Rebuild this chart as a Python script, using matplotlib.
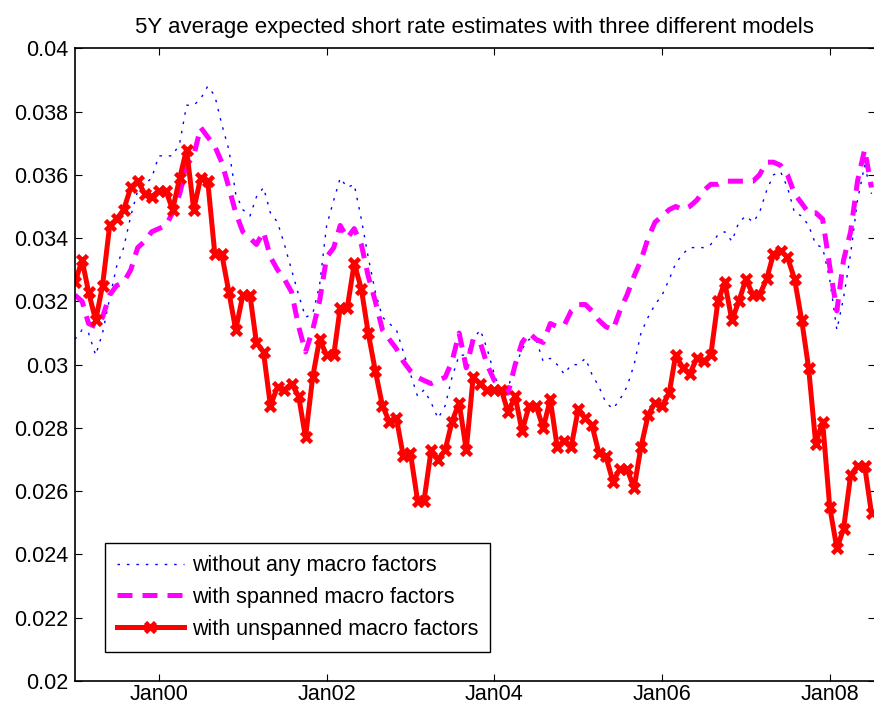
import matplotlib
matplotlib.use("Agg")
import matplotlib.pyplot as plt
import matplotlib.dates as mdates
import matplotlib.ticker as mticker
import pandas as pd
import datetime as dt

plt.rcParams['font.family'] = ['Liberation Sans', 'DejaVu Sans']

title = "5Y average expected short rate estimates with three different models"
labels = ["without any macro factors", "with spanned macro factors", "with unspanned macro factors"]

start_month = "1999-01-01"

no_macro = [
    0.0308, 0.0311, 0.0310, 0.0303, 0.0310, 0.0321, 0.0331, 0.0337, 0.0347, 0.0355,
    0.0357, 0.0359, 0.0366, 0.0366, 0.0366, 0.0370, 0.0382, 0.0382, 0.0384, 0.0388,
    0.0385, 0.0376, 0.0368, 0.0354, 0.0349, 0.0347, 0.0353, 0.0356, 0.0348, 0.0345,
    0.0338, 0.0330, 0.0322, 0.0315, 0.0316, 0.0325, 0.0344, 0.0352, 0.0359, 0.0356,
    0.0357, 0.0346, 0.0334, 0.0323, 0.0315, 0.0313, 0.0311, 0.0304, 0.0297, 0.0290,
    0.0292, 0.0288, 0.0283, 0.0287, 0.0296, 0.0303, 0.0303, 0.0308, 0.0311, 0.0305,
    0.0297, 0.0291, 0.0293, 0.0299, 0.0305, 0.0308, 0.0308, 0.0301, 0.0302, 0.0300,
    0.0297, 0.0300, 0.0300, 0.0302, 0.0297, 0.0293, 0.0288, 0.0286, 0.0289, 0.0293,
    0.0300, 0.0310, 0.0315, 0.0319, 0.0322, 0.0327, 0.0332, 0.0335, 0.0337, 0.0337,
    0.0337, 0.0338, 0.0341, 0.0342, 0.0339, 0.0345, 0.0347, 0.0345, 0.0348, 0.0355,
    0.0360, 0.0361, 0.0356, 0.0348, 0.0347, 0.0344, 0.0338, 0.0337, 0.0327, 0.0311,
    0.0321, 0.0335, 0.0352, 0.0363, 0.0354,
]

spanned = [
    0.0322, 0.0320, 0.0313, 0.0312, 0.0315, 0.0322, 0.0325, 0.0326, 0.0330, 0.0337,
    0.0339, 0.0342, 0.0343, 0.0344, 0.0348, 0.0354, 0.0363, 0.0366, 0.0375, 0.0372,
    0.0369, 0.0364, 0.0356, 0.0348, 0.0342, 0.0340, 0.0338, 0.0342, 0.0334, 0.0330,
    0.0327, 0.0323, 0.0312, 0.0304, 0.0311, 0.0320, 0.0334, 0.0337, 0.0344, 0.0340,
    0.0343, 0.0338, 0.0328, 0.0320, 0.0311, 0.0308, 0.0305, 0.0301, 0.0298, 0.0296,
    0.0295, 0.0294, 0.0295, 0.0296, 0.0301, 0.0310, 0.0299, 0.0308, 0.0307, 0.0300,
    0.0295, 0.0293, 0.0291, 0.0300, 0.0307, 0.0310, 0.0308, 0.0307, 0.0313, 0.0312,
    0.03125, 0.0317, 0.0319, 0.0319, 0.0317, 0.0314, 0.0312, 0.0311, 0.0317, 0.0322,
    0.0328, 0.0333, 0.0340, 0.0345, 0.0347, 0.0349, 0.0350, 0.0349, 0.0350, 0.0352,
    0.0355, 0.0357, 0.0357, 0.0358, 0.0358, 0.0358, 0.0358, 0.0358, 0.0360, 0.0364,
    0.0364, 0.0363, 0.0360, 0.0354, 0.0351, 0.0348, 0.0348, 0.0346, 0.0331, 0.0317,
    0.0333, 0.0342, 0.0358, 0.0368, 0.0356,
]

unspanned = [
    0.0326, 0.0333, 0.0323, 0.0314, 0.0325, 0.0344, 0.0346, 0.0349, 0.0356, 0.0358,
    0.0354, 0.0353, 0.0355, 0.0355, 0.0349, 0.0359, 0.0368, 0.0349, 0.0359, 0.0358,
    0.0335, 0.0335, 0.0323, 0.0311, 0.0322, 0.0322, 0.0307, 0.0304, 0.0287, 0.0293,
    0.0292, 0.0294, 0.0290, 0.0277, 0.0296, 0.0308, 0.0303, 0.0303, 0.0318, 0.0318,
    0.0332, 0.0324, 0.0310, 0.0298, 0.0287, 0.0282, 0.0283, 0.0271, 0.0272, 0.0257,
    0.0257, 0.0273, 0.0270, 0.0273, 0.0282, 0.0288, 0.0273, 0.0296, 0.0294, 0.0292,
    0.0292, 0.0292, 0.0285, 0.0290, 0.0279, 0.0287, 0.0287, 0.0280, 0.0289, 0.0274,
    0.0276, 0.0274, 0.0286, 0.0283, 0.0281, 0.0272, 0.0271, 0.0263, 0.0267, 0.0267,
    0.0261, 0.0274, 0.0284, 0.0288, 0.0287, 0.0291, 0.0303, 0.0299, 0.0297, 0.0302,
    0.0301, 0.0303, 0.0320, 0.0326, 0.0314, 0.0320, 0.0327, 0.0322, 0.0322, 0.0327,
    0.0335, 0.0336, 0.0334, 0.0327, 0.0314, 0.0299, 0.0275, 0.0282, 0.0255, 0.0242,
    0.0248, 0.0265, 0.0268, 0.0268, 0.0253,
]

y_ticks = [0.02, 0.022, 0.024, 0.026, 0.028, 0.03, 0.032, 0.034, 0.036, 0.038, 0.04]
x_tick_years = [2000, 2002, 2004, 2006, 2008]

dates = pd.date_range(start_month, periods=len(unspanned), freq="MS")

W, H = 874, 709
fig = plt.figure(figsize=(W / 100, H / 100), dpi=100)
ax = fig.add_axes([75 / W, (H - 681) / H, (874.5 - 75) / W, (681 - 48.3) / H])

ax.plot(dates, no_macro, color=(0, 0, 1), lw=1.0, linestyle=(0, (1.8, 5.0)),
        label=labels[0])
ax.plot(dates, spanned, color=(1, 0, 1), lw=3.6, linestyle=(0, (3.0, 2.0)),
        label=labels[1])
ax.plot(dates, unspanned, color=(1, 0, 0), lw=3.6, marker='x', ms=7, mew=3.3,
        label=labels[2])

ax.set_xlim(dt.datetime(1999, 1, 1), dt.datetime(2008, 7, 14))
ax.set_ylim(0.02, 0.04)
ax.set_yticks(y_ticks)
ax.yaxis.set_major_formatter(mticker.FuncFormatter(lambda v, p: f"{v:g}"))
ax.set_xticks([dt.datetime(y, 1, 1) for y in x_tick_years])
ax.xaxis.set_major_formatter(mdates.DateFormatter("Jan%y"))

ax.tick_params(direction='in', length=5, width=0.8, top=True, right=True,
               labelsize=15.5, colors='black')
ax.tick_params(axis='y', pad=5)
ax.tick_params(axis='x', pad=2.5)
for s in ax.spines.values():
    s.set_linewidth(1.2)

ax.set_title(title, fontsize=16, pad=11)

leg = ax.legend(loc='lower left', bbox_to_anchor=(30 / 799.5, 29.5 / 632.7),
                borderaxespad=0, fontsize=15.5, frameon=True, fancybox=False,
                edgecolor='black', framealpha=1, handlelength=3.1,
                handletextpad=0.4, labelspacing=0.5, borderpad=0.55)
leg.get_frame().set_linewidth(1.0)

fig.savefig("out.png", dpi=100)
